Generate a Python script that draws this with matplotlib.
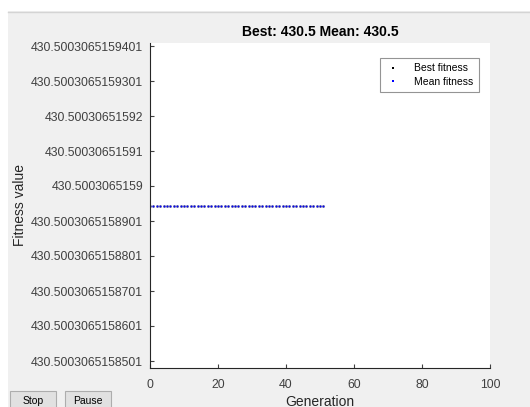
import numpy as np
import matplotlib.pyplot as plt
from matplotlib.patches import Rectangle

plt.rcParams['font.family'] = ['Liberation Sans', 'DejaVu Sans']

# generations 0..51, fitness is flat the whole run
generations = list(range(52))
best_fitness = [430.5003065158944] * 52
mean_fitness = [430.5003065158944] * 52

y_ticks = [430.5003065158501 + k * 1e-11 for k in range(10)]
y_tick_labels = ['430.5003065158501', '430.5003065158601', '430.5003065158701',
                 '430.5003065158801', '430.5003065158901', '430.5003065159',
                 '430.50030651591', '430.50030651592', '430.5003065159301',
                 '430.5003065159401']
x_ticks = [0, 20, 40, 60, 80, 100]

bg = '#f0f0f0'
ink = '#262626'

fig = plt.figure(figsize=(5.3, 4.07), dpi=100)
fig.patch.set_facecolor(bg)

# white window strip at top and left
fig.patches.append(Rectangle((0, 1 - 11 / 407), 1, 11 / 407, transform=fig.transFigure,
                             facecolor='white', edgecolor='none', zorder=-5))
fig.patches.append(Rectangle((0, 0), 8 / 530, 1, transform=fig.transFigure,
                             facecolor='white', edgecolor='none', zorder=-5))
fig.lines.append(plt.Line2D([8 / 530, 1], [1 - 11.5 / 407] * 2, transform=fig.transFigure,
                            color='#d4d4d4', lw=1, zorder=-4))

ax = fig.add_axes([150 / 530, 39 / 407, 340 / 530, 325 / 407])
ax.set_facecolor('white')

ax.plot(generations, best_fitness, linestyle='none', marker='s', color='black',
        markersize=1.3, markeredgewidth=0, label='Best fitness')
ax.plot(generations, mean_fitness, linestyle='none', marker='s', color='blue',
        markersize=1.3, markeredgewidth=0, label='Mean fitness')

ax.set_xlim(0, 100)
ax.set_ylim(y_ticks[0] - 0.2e-11, y_ticks[0] + 9.09e-11)
ax.set_xticks(x_ticks)
ax.set_yticks(y_ticks)
ax.set_yticklabels(y_tick_labels)

ax.spines['top'].set_visible(False)
ax.spines['right'].set_visible(False)
for s in ['left', 'bottom']:
    ax.spines[s].set_color(ink)
    ax.spines[s].set_linewidth(0.8)
ax.tick_params(direction='in', length=3, width=0.8, colors='#404040', labelsize=8.8)
ax.tick_params(axis='x', pad=8)
ax.tick_params(axis='y', pad=5)

ax.set_xlabel('Generation', fontsize=10, color=ink, labelpad=3)
ax.set_ylabel('Fitness value', fontsize=10, color=ink)
ax.yaxis.set_label_coords(-0.362, 0.5)
ax.set_title('Best: 430.5 Mean: 430.5', fontsize=10, fontweight='bold', color='black', pad=5)

leg = ax.legend(loc='upper right', bbox_to_anchor=(0.982, 0.97), fontsize=7.5,
                frameon=True, fancybox=False, handlelength=1.6, handletextpad=1.2,
                borderpad=0.5, labelspacing=0.35, markerscale=1.3)
leg.get_frame().set_edgecolor('#7a7a7a')
leg.get_frame().set_linewidth(0.8)

# Stop / Pause buttons
for label, x0 in [('Stop', 10), ('Pause', 65)]:
    fig.patches.append(Rectangle((x0 / 530, -2 / 407), 46 / 530, 18 / 407,
                                 transform=fig.transFigure, facecolor='#e1e1e1',
                                 edgecolor='#adadad', lw=0.8))
    fig.text((x0 + 23) / 530, 6 / 407, label, fontsize=7.5, ha='center', va='center',
             color='black')

fig.savefig('out.png', dpi=100, facecolor=fig.get_facecolor())
